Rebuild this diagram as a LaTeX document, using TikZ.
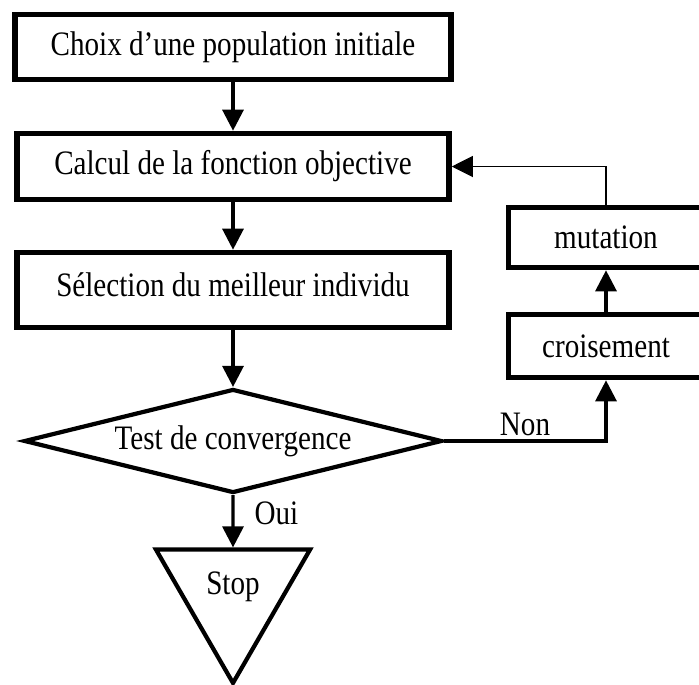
\documentclass[tikz,border=0pt]{standalone}
\usepackage{fontspec}
\setmainfont{Liberation Serif}[FakeStretch=0.85]
\usetikzlibrary{shapes.geometric,arrows.meta}

\begin{document}
\begin{tikzpicture}[x=0.02cm,y=-0.02cm,
  txt/.style={font=\fontsize{19.5}{22}\selectfont},
  bloc/.style={rectangle, draw, line width=3.2pt, inner sep=0pt, txt},
  fleche/.style={line width=1.8pt, -{Triangle[width=12pt,length=12pt]}}]
\useasboundingbox (0,0) rectangle (699,684);

% les blocs
\node[bloc, minimum width=8.72cm, minimum height=1.3cm] (choix) at (233,47) {Choix d’une population initiale};
\node[bloc, minimum width=8.64cm, minimum height=1.32cm] (calcul) at (233,166.5) {Calcul de la fonction objective};
\node[bloc, minimum width=8.64cm, minimum height=1.5cm] (selec) at (233,290) {\raisebox{6pt}{Sélection du meilleur individu}};
\node[diamond, aspect=4, draw, line width=2.4pt, inner sep=0pt, txt, minimum width=8.36cm, minimum height=2.08cm] (test) at (233,441) {Test de convergence};
\node[regular polygon, regular polygon sides=3, shape border rotate=180, draw, line width=2.4pt, inner sep=0pt, minimum size=3.56cm, txt] (stop) at (233,594) {\raisebox{12pt}{Stop}};
\node[bloc, minimum width=3.9cm, minimum height=1.2cm] (mut) at (606,237.5) {mutation};
\node[bloc, minimum width=3.9cm, minimum height=1.26cm] (crois) at (606,346) {croisement};

% les fleches
\draw[fleche] (choix) -- (calcul);
\draw[fleche] (calcul) -- (selec);
\draw[fleche] (selec) -- (test);
\draw[fleche] (test) -- node[right, txt, pos=0.35, xshift=8pt] {Oui} (stop);
\draw[fleche] (test.east) -| node[above, txt, pos=0.25, inner sep=2pt] {Non} (crois.south);
\draw[fleche] (crois) -- (mut);
\draw[line width=0.6pt, -{Triangle[width=12pt,length=12pt]}] (mut.north) |- (calcul.east);

\end{tikzpicture}
\end{document}
